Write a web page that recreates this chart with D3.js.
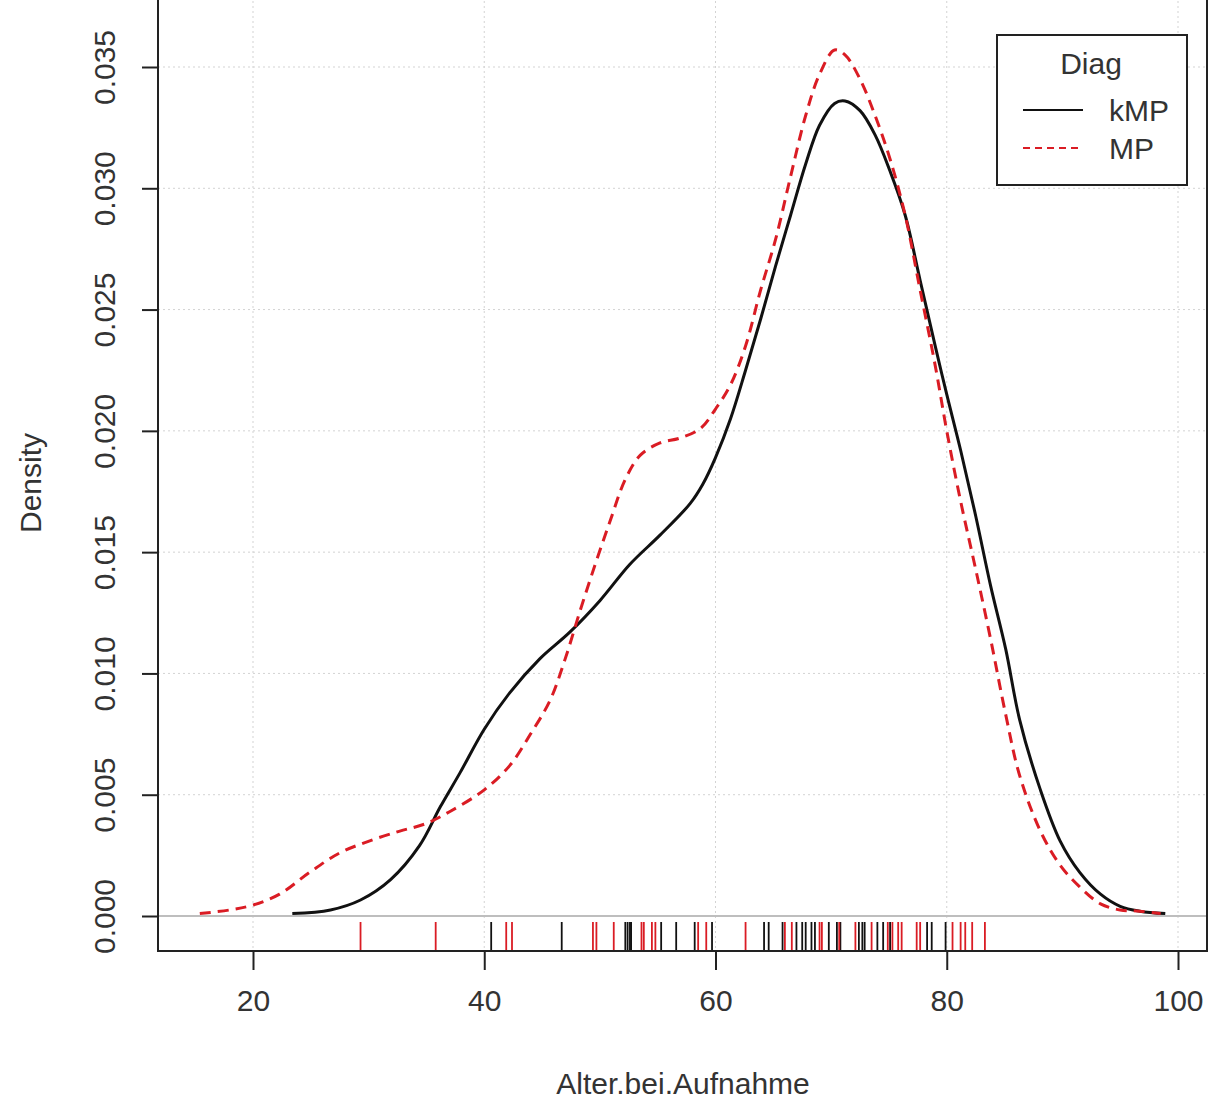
<!DOCTYPE html>
<html>
<head>
<meta charset="utf-8">
<script src="https://cdn.jsdelivr.net/npm/d3@7"></script>
<style>
  html, body { margin: 0; padding: 0; background: #fff; }
  svg { display: block; }
  text { font-family: "Liberation Sans", Arial, sans-serif; }
</style>
</head>
<body>
<svg id="chart" width="1215" height="1102"></svg>
<script>
// ---- data ----
const xTicks = [20, 40, 60, 80, 100];
const yTicks = [0.000, 0.005, 0.010, 0.015, 0.020, 0.025, 0.030, 0.035];
const yTickLabels = ["0.000", "0.005", "0.010", "0.015", "0.020", "0.025", "0.030", "0.035"];
const seriesNames = ["kMP", "MP"];
const seriesColors = ["#111111", "#DA1C24"];

// kMP density curve: [age, density]
const kmpX = [23.4, 26.7, 29.3, 31.9, 34.4, 36.2, 37.9, 40.0, 42.2, 44.8, 47.4, 50.0, 52.6, 55.2, 57.8, 58.9, 60.0, 61.3, 62.6, 63.9, 65.2, 66.5, 67.8, 69.0, 70.3, 71.2, 72.5, 73.8, 75.1, 76.4, 77.7, 79.0, 80.0, 81.2, 82.5, 83.8, 85.1, 86.3, 88.1, 89.8, 91.5, 93.3, 95.0, 96.7, 98.9];
const kmpY = [0.0001, 0.00025, 0.00066, 0.0015, 0.0029, 0.0045, 0.0059, 0.0077, 0.0092, 0.0106, 0.0117, 0.0130, 0.0145, 0.0157, 0.0170, 0.0178, 0.0189, 0.0205, 0.0225, 0.0246, 0.0268, 0.0289, 0.0310, 0.0326, 0.0335, 0.0336, 0.0332, 0.0322, 0.0307, 0.0289, 0.0262, 0.0235, 0.0215, 0.0192, 0.0165, 0.0136, 0.0110, 0.0081, 0.0052, 0.0031, 0.0018, 0.0009, 0.0004, 0.0002, 0.0001];

// MP density curve
const mpX = [15.4, 18.0, 20.0, 22.3, 24.9, 27.5, 30.1, 32.7, 34.9, 37.0, 40.0, 42.2, 44.0, 45.7, 47.0, 48.3, 49.6, 50.9, 52.2, 53.5, 55.2, 56.9, 58.7, 60.0, 61.3, 62.6, 63.9, 65.2, 66.5, 67.8, 69.0, 70.3, 71.2, 72.5, 73.8, 75.1, 76.4, 77.7, 79.0, 80.0, 81.2, 82.5, 83.8, 85.1, 86.3, 88.1, 89.8, 91.5, 93.3, 95.0, 96.7, 98.5];
const mpY = [0.0001, 0.00025, 0.00045, 0.0009, 0.0018, 0.0026, 0.0031, 0.0035, 0.0038, 0.0043, 0.0052, 0.0062, 0.0075, 0.0089, 0.0106, 0.0126, 0.0145, 0.0163, 0.0180, 0.0190, 0.0195, 0.0197, 0.0201, 0.0209, 0.0219, 0.0235, 0.0258, 0.0279, 0.0305, 0.0330, 0.0347, 0.0357, 0.0355, 0.0345, 0.0330, 0.0312, 0.0289, 0.0258, 0.0227, 0.0200, 0.0171, 0.0143, 0.0114, 0.0083, 0.0058, 0.0035, 0.0021, 0.0012, 0.0005, 0.00025, 0.0002, 0.0001];

// rug observations
const kmpRug = [40.6, 46.7, 52.2, 52.4, 52.6, 52.7, 55.3, 56.6, 58.2, 59.7, 64.2, 64.6, 65.8, 67.0, 67.5, 67.8, 68.3, 68.6, 69.8, 70.5, 70.8, 72.4, 72.7, 72.9, 74.0, 74.5, 75.1, 78.3, 78.7, 79.9];
const mpRug = [29.3, 35.8, 41.9, 42.4, 49.4, 49.7, 51.2, 53.6, 53.8, 54.5, 54.8, 58.5, 59.2, 62.6, 66.0, 66.6, 69.0, 69.2, 70.7, 72.1, 73.5, 74.9, 75.3, 75.8, 76.1, 77.4, 77.7, 80.5, 81.2, 81.6, 82.2, 83.3];

// ---- layout ----
const svg = d3.select("#chart");
const box = { left: 158, right: 1207, top: -4, bottom: 951 };
const x = d3.scaleLinear().domain([20, 100]).range([253, 1178]);
const y = d3.scaleLinear().domain([0, 0.035]).range([916, 67]);
const txt = "#333333";
const fs = 30;

// grid
const grid = svg.append("g");
grid.selectAll("line.gx").data(xTicks).enter().append("line")
  .attr("x1", d => x(d)).attr("x2", d => x(d))
  .attr("y1", box.top).attr("y2", box.bottom)
  .attr("stroke", "#d3d3d3").attr("stroke-width", 1).attr("stroke-dasharray", "2,3");
grid.selectAll("line.gy").data(yTicks).enter().append("line")
  .attr("x1", box.left).attr("x2", box.right)
  .attr("y1", d => y(d)).attr("y2", d => y(d))
  .attr("stroke", "#d3d3d3").attr("stroke-width", 1).attr("stroke-dasharray", "2,3");

// zero line
svg.append("line")
  .attr("x1", box.left).attr("x2", box.right)
  .attr("y1", y(0)).attr("y2", y(0))
  .attr("stroke", "#bebebe").attr("stroke-width", 2);

// curves
const line = d3.line().x(d => x(d[0])).y(d => y(d[1])).curve(d3.curveCatmullRom.alpha(0.5));
const kmpData = kmpX.map((v, i) => [v, kmpY[i]]);
const mpData = mpX.map((v, i) => [v, mpY[i]]);
svg.append("path").datum(kmpData).attr("d", line)
  .attr("fill", "none").attr("stroke", seriesColors[0]).attr("stroke-width", 3);
svg.append("path").datum(mpData).attr("d", line)
  .attr("fill", "none").attr("stroke", seriesColors[1]).attr("stroke-width", 3)
  .attr("stroke-dasharray", "11,7");

// rug
const rugLen = 29;
svg.append("g").selectAll("line").data(kmpRug).enter().append("line")
  .attr("x1", d => x(d)).attr("x2", d => x(d))
  .attr("y1", box.bottom).attr("y2", box.bottom - rugLen)
  .attr("stroke", seriesColors[0]).attr("stroke-width", 1.8);
svg.append("g").selectAll("line").data(mpRug).enter().append("line")
  .attr("x1", d => x(d)).attr("x2", d => x(d))
  .attr("y1", box.bottom).attr("y2", box.bottom - rugLen)
  .attr("stroke", seriesColors[1]).attr("stroke-width", 1.8);

// box
svg.append("rect")
  .attr("x", box.left).attr("y", box.top)
  .attr("width", box.right - box.left).attr("height", box.bottom - box.top)
  .attr("fill", "none").attr("stroke", "#222").attr("stroke-width", 2);

// x axis
const xAxis = svg.append("g").attr("transform", `translate(0,${box.bottom})`)
  .call(d3.axisBottom(x).tickValues(xTicks).tickSize(19).tickPadding(20).tickFormat(d3.format("d")));
xAxis.select(".domain").attr("stroke", "#222").attr("stroke-width", 2)
  .attr("d", `M${x(20)},0H${x(100)}`);
xAxis.selectAll(".tick line").attr("stroke", "#222").attr("stroke-width", 2);
xAxis.selectAll(".tick text").attr("font-size", fs).attr("fill", txt)
  .attr("font-family", "Liberation Sans, Arial, sans-serif");

// y axis
const yAxis = svg.append("g").attr("transform", `translate(${box.left},0)`)
  .call(d3.axisLeft(y).tickValues(yTicks).tickSize(16).tickFormat((d, i) => yTickLabels[i]));
yAxis.select(".domain").attr("stroke", "#222").attr("stroke-width", 2)
  .attr("d", `M0,${y(0)}V${y(0.035)}`);
yAxis.selectAll(".tick line").attr("stroke", "#222").attr("stroke-width", 2);
yAxis.selectAll(".tick text")
  .attr("font-size", fs).attr("fill", txt)
  .attr("font-family", "Liberation Sans, Arial, sans-serif")
  .attr("x", null).attr("dy", null)
  .attr("text-anchor", "middle")
  .attr("transform", "translate(-43,0) rotate(-90)");

// axis titles
svg.append("text").attr("x", 683).attr("y", 1094)
  .attr("text-anchor", "middle").attr("font-size", fs).attr("fill", txt)
  .text("Alter.bei.Aufnahme");
svg.append("text")
  .attr("transform", `translate(41,${483}) rotate(-90)`)
  .attr("text-anchor", "middle").attr("font-size", fs).attr("fill", txt)
  .text("Density");

// legend
const lg = svg.append("g");
lg.append("rect").attr("x", 997).attr("y", 35).attr("width", 190).attr("height", 150)
  .attr("fill", "#fff").attr("stroke", "#222").attr("stroke-width", 2);
lg.append("text").attr("x", 1091).attr("y", 74).attr("text-anchor", "middle")
  .attr("font-size", fs).attr("fill", txt).text("Diag");
const legY = [110, 148];
seriesNames.forEach((name, i) => {
  lg.append("line").attr("x1", 1023).attr("x2", 1083)
    .attr("y1", legY[i]).attr("y2", legY[i])
    .attr("stroke", seriesColors[i]).attr("stroke-width", 2)
    .attr("stroke-dasharray", i === 0 ? null : "7,5");
  lg.append("text").attr("x", 1109).attr("y", legY[i] + 11)
    .attr("font-size", fs).attr("fill", txt).text(name);
});
</script>
</body>
</html>
